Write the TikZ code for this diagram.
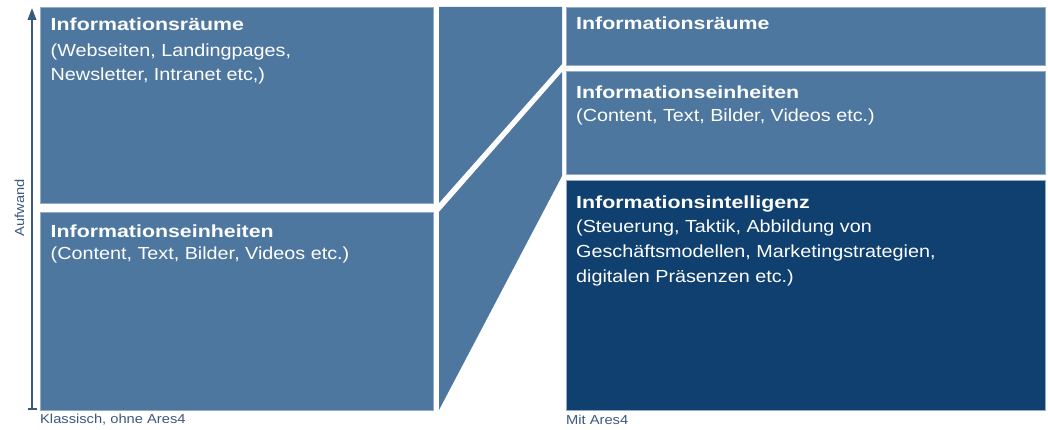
\documentclass[tikz,border=0pt]{standalone}
\usepackage{fontspec}
\setmainfont{Liberation Sans}[FakeStretch=1.13]
\newfontfamily\headfont{Liberation Sans}[FakeStretch=1.22]
\usetikzlibrary{arrows.meta}
\definecolor{midblue}{RGB}{78,119,160}
\definecolor{darkblue}{RGB}{15,64,111}
\definecolor{edgeblue}{RGB}{150,172,198}
\definecolor{axisblue}{RGB}{58,88,128}
\tikzset{
  box/.style={fill=midblue, draw=edgeblue, line width=0.7pt},
  darkbox/.style={fill=darkblue, draw=edgeblue, line width=0.7pt},
  band/.style={fill=midblue, draw=none},
  head/.style={anchor=base west, inner sep=0pt, text=white, font=\headfont\bfseries\fontsize{17.5}{21}\selectfont},
  body/.style={anchor=base west, inner sep=0pt, text=white, font=\fontsize{17.5}{21}\selectfont},
  lab/.style={inner sep=0pt, text=axisblue, font=\fontsize{13}{15}\selectfont},
}
\begin{document}
\begin{tikzpicture}[x=1pt,y=-1pt]
\useasboundingbox (0,0) rectangle (1048,430);
% left column
\path[box] (40,7) rectangle (433,203);
\node[inner sep=0pt] (ltop) at (236.5,105) {};
\path[box] (40,212) rectangle (433,410);
\node[inner sep=0pt] (lbot) at (236.5,311) {};
% middle bands
\path[band] (439,7) -- (562,7) -- (562,64) -- (439,203) -- cycle;
\path[band] (439,212) -- (562,72) -- (562,176) -- (439,410) -- cycle;
% right column
\path[box] (566,7) rectangle (1045,65);
\path[box] (566,71) rectangle (1045,174);
\path[darkbox] (566,180) rectangle (1045,410);
% texts left
\node[head] (t1) at (50.5,31) {Informationsräume};
\node[body] (t1a) at (50.5,56.5) {(Webseiten, Landingpages,};
\node[body] (t1b) at (50.5,80.5) {Newsletter, Intranet etc,)};
\node[head] (t2) at (50.5,237) {Informationseinheiten};
\node[body] (t2a) at (50.5,259) {(Content, Text, Bilder, Videos etc.)};
% texts right
\node[head] (t3) at (576,30) {Informationsräume};
\node[head] (t4) at (576,98.3) {Informationseinheiten};
\node[body] (t4a) at (576,121.7) {(Content, Text, Bilder, Videos etc.)};
\node[head] (t5) at (576,208.3) {Informationsintelligenz};
\node[body] (t5a) at (576,232.5) {(Steuerung, Taktik, Abbildung von};
\node[body] (t5b) at (576,257.7) {Geschäftsmodellen, Marketingstrategien,};
\node[body] (t5c) at (576,282.3) {digitalen Präsenzen etc.)};
% axis
\coordinate (axbot) at (32,409);
\coordinate (axtop) at (32,8);
\draw[axisblue, line width=2.2pt, -{Triangle[length=12pt,width=8.5pt]}] (axbot) -- (axtop);
\draw[axisblue, line width=2pt] (27.5,409) -- (36.5,409);
\node[lab, rotate=90, anchor=base] (auf) at (24,208) {Aufwand};
\node[lab, anchor=base west] (kl) at (40,423) {Klassisch, ohne Ares4};
\node[lab, anchor=base west] (mit) at (566,424) {Mit Ares4};
\end{tikzpicture}
\end{document}
